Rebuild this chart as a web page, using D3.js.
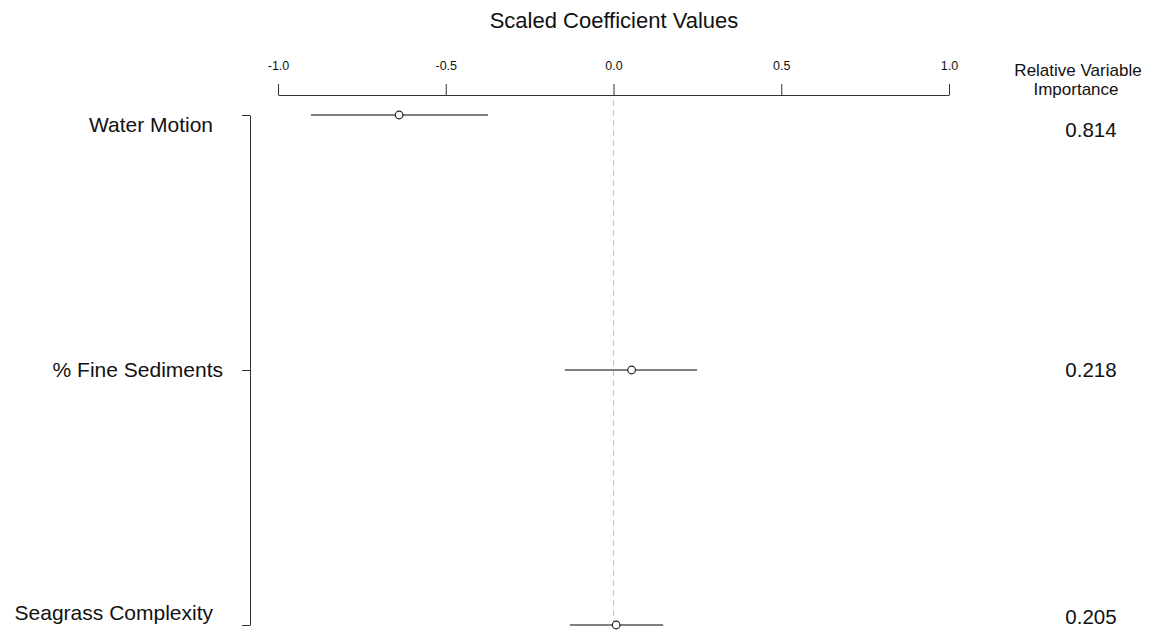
<!DOCTYPE html>
<html>
<head>
<meta charset="utf-8">
<script src="https://cdnjs.cloudflare.com/ajax/libs/d3/7.8.5/d3.min.js"></script>
<style>
  body { margin: 0; background: #fff; }
  svg text { font-family: "Liberation Sans", Arial, Helvetica, sans-serif; fill: #111; }
</style>
</head>
<body>
<div id="chart"></div>
<script>
// data
var variables = ["Water Motion", "% Fine Sediments", "Seagrass Complexity"];
var estimates = [-0.639, 0.054, 0.008];
var lower = [-0.902, -0.145, -0.130];
var upper = [-0.374, 0.249, 0.148];
var importance = ["0.814", "0.218", "0.205"];
var xTicks = [-1.0, -0.5, 0.0, 0.5, 1.0];

var width = 1151, height = 630;

var svg = d3.select("#chart")
  .append("svg")
    .attr("width", width)
    .attr("height", height);

var x = d3.scaleLinear()
  .domain([-1, 1])
  .range([278, 949]);

var y = d3.scalePoint()
  .domain(variables)
  .range([115, 625]);

// title
svg.append("text")
  .attr("x", 614)
  .attr("y", 28)
  .attr("text-anchor", "middle")
  .style("font-size", "22px")
  .text("Scaled Coefficient Values");

// top axis
var xAxis = svg.append("g")
  .attr("transform", "translate(0,95)")
  .call(d3.axisTop(x)
    .tickValues(xTicks)
    .tickFormat(d3.format(".1f"))
    .tickSize(11)
    .tickSizeOuter(0)
    .tickPadding(14));

xAxis.select(".domain").attr("stroke", "#333");
xAxis.selectAll(".tick line").attr("stroke", "#333");
xAxis.selectAll(".tick text")
  .style("font-size", "12.5px")
  .attr("y", -25)
  .attr("dy", 0)
  .text(d => d3.format(".1f")(d).replace("−", "-"));

// left axis
var yAxis = svg.append("g")
  .attr("transform", "translate(250,0)")
  .call(d3.axisLeft(y)
    .tickSize(8)
    .tickSizeOuter(0)
    .tickFormat(""));

yAxis.select(".domain").attr("stroke", "#333");
yAxis.selectAll(".tick line").attr("stroke", "#333");

// variable labels
var labelShift = [10, 0, -12];
var labelEnd = [213, 223, 213];
svg.append("g")
  .selectAll("text")
  .data(variables)
  .enter()
    .append("text")
    .attr("x", (d, i) => labelEnd[i])
    .attr("y", (d, i) => y(d) + labelShift[i])
    .attr("dy", "0.35em")
    .attr("text-anchor", "end")
    .style("font-size", "21px")
    .text(d => d);

// zero reference line
svg.append("line")
  .attr("x1", x(0))
  .attr("x2", x(0))
  .attr("y1", 100)
  .attr("y2", height)
  .attr("stroke", "#c8c8c8")
  .attr("stroke-width", 1.2)
  .attr("stroke-dasharray", "6,4");

// error bars
svg.append("g")
  .selectAll("line")
  .data(variables)
  .enter()
    .append("line")
    .attr("x1", (d, i) => x(lower[i]))
    .attr("x2", (d, i) => x(upper[i]))
    .attr("y1", d => y(d))
    .attr("y2", d => y(d))
    .attr("stroke", "#555")
    .attr("stroke-width", 1.3);

// points
svg.append("g")
  .selectAll("circle")
  .data(variables)
  .enter()
    .append("circle")
    .attr("cx", (d, i) => x(estimates[i]))
    .attr("cy", d => y(d))
    .attr("r", 3.8)
    .attr("fill", "#fff")
    .attr("stroke", "#222")
    .attr("stroke-width", 1.2);

// relative importance column
svg.append("text")
  .attr("x", 1078)
  .attr("y", 76)
  .attr("text-anchor", "middle")
  .style("font-size", "17px")
  .text("Relative Variable");

svg.append("text")
  .attr("x", 1076)
  .attr("y", 95)
  .attr("text-anchor", "middle")
  .style("font-size", "17px")
  .text("Importance");

var valueShift = [15, 0, -8];
svg.append("g")
  .selectAll("text")
  .data(importance)
  .enter()
    .append("text")
    .attr("x", 1091)
    .attr("y", (d, i) => y(variables[i]) + valueShift[i])
    .attr("dy", "0.35em")
    .attr("text-anchor", "middle")
    .style("font-size", "20.5px")
    .text(d => d);
</script>
</body>
</html>
